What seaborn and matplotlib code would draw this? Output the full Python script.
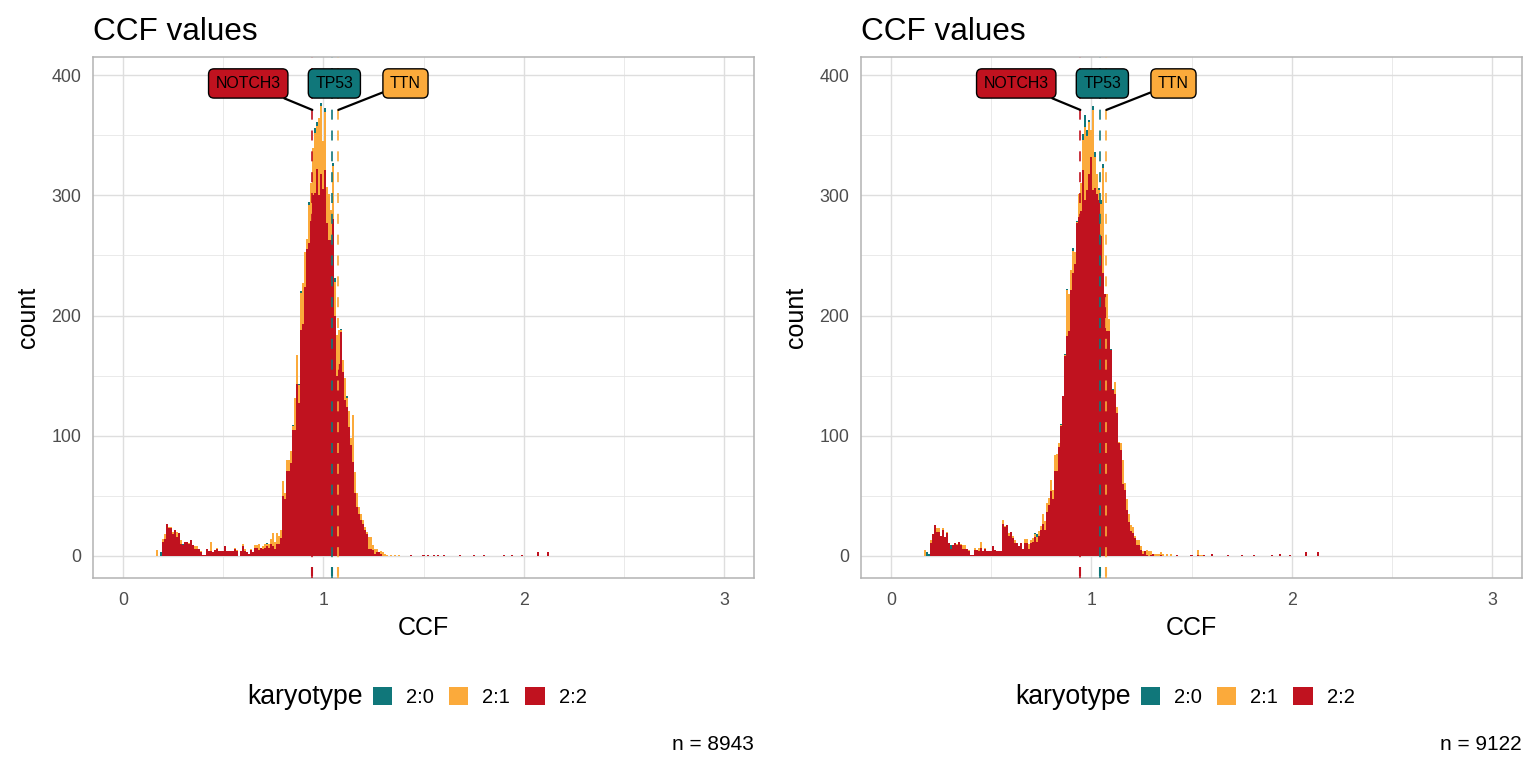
import numpy as np
import pandas as pd
import matplotlib.pyplot as plt
from matplotlib.patches import Patch
import seaborn as sns

karyotypes = ["2:0", "2:1", "2:2"]
palette = {"2:0": "#10777A", "2:1": "#FBAA3B", "2:2": "#C0121F"}

# histogram bins: width 0.01 starting at 0.165 (bin k centred on 0.17 + 0.01k)
bin_start = 0.165
bin_width = 0.01

# ---- left panel (n = 8943) ----
left_22 = [0, 0, 0, 12, 14, 27, 23, 23, 18, 22,
           16, 19, 10, 9, 12, 12, 10, 13, 9, 6,
           6, 6, 3, 1, 1, 6, 4, 4, 3, 5,
           6, 4, 4, 4, 8, 4, 4, 4, 4, 6,
           4, 0, 4, 8, 4, 3, 2, 5, 3, 7,
           7, 5, 7, 6, 7, 8, 7, 10, 8, 6,
           10, 10, 15, 50, 47, 71, 71, 77, 105, 105,
           143, 127, 188, 193, 224, 255, 260, 279, 300, 302,
           322, 300, 318, 305, 321, 277, 263, 263, 280, 200,
           150, 160, 186, 153, 130, 124, 107, 92, 78, 52,
           41, 35, 30, 27, 22, 18, 6, 6, 5, 2,
           3, 3, 2, 0, 0, 0, 0, 0, 0, 0,
           0, 0, 0, 0, 0]
left_21 = [5, 0, 0, 2, 4, 0, 1, 1, 2, 0,
           4, 0, 3, 0, 0, 0, 1, 0, 0, 2,
           2, 0, 1, 0, 0, 0, 0, 8, 0, 0,
           1, 0, 0, 0, 0, 0, 0, 0, 0, 1,
           1, 0, 0, 2, 2, 0, 0, 1, 0, 2,
           2, 5, 0, 2, 3, 2, 3, 4, 11, 6,
           9, 7, 7, 12, 5, 9, 9, 10, 3, 26,
           24, 15, 31, 34, 29, 9, 32, 31, 39, 50,
           36, 64, 56, 40, 48, 30, 38, 25, 44, 28,
           34, 28, 2, 10, 18, 7, 14, 6, 39, 18,
           11, 6, 5, 3, 2, 2, 10, 10, 4, 4,
           3, 0, 2, 3, 2, 1, 0, 1, 0, 1,
           0, 1, 0, 0, 0]
left_20_ccf = [0.19, 0.30, 0.72, 0.85, 0.88, 0.89, 0.93, 0.96, 0.97, 0.99,
               1.01, 1.05, 1.06, 1.09, 1.12]
left_20_n = [3, 1, 1, 1, 1, 1, 2, 4, 3, 3, 4, 3, 3, 1, 2]
left_tail_22_ccf = [1.44, 1.50, 1.52, 1.55, 1.57, 1.60, 1.68, 1.75, 1.80, 1.90,
                    1.94, 1.99, 2.07, 2.12]
left_tail_22_n = [1, 1, 1, 1, 1, 1, 1, 1, 1, 1, 1, 1, 3, 3]

# ---- right panel (n = 9122) ----
right_22 = [0, 0, 0, 11, 18, 26, 20, 20, 17, 22,
            16, 19, 11, 6, 9, 11, 9, 12, 9, 6,
            6, 6, 4, 1, 1, 5, 5, 4, 7, 4,
            6, 4, 4, 4, 8, 5, 4, 4, 4, 27,
            24, 26, 17, 20, 15, 11, 11, 8, 11, 6,
            11, 11, 6, 11, 12, 16, 12, 17, 22, 27,
            22, 37, 42, 54, 47, 71, 71, 91, 108, 133,
            166, 183, 187, 221, 235, 243, 277, 282, 287, 321,
            296, 304, 318, 332, 304, 306, 301, 296, 266, 235,
            218, 187, 187, 171, 138, 135, 119, 94, 88, 60,
            55, 38, 28, 21, 19, 15, 9, 9, 5, 2,
            4, 1, 0, 1, 2, 0, 0, 0, 1, 0,
            0, 0, 0, 0, 0]
right_21 = [5, 0, 0, 2, 0, 0, 3, 3, 0, 1,
            0, 1, 0, 0, 0, 0, 1, 0, 1, 3,
            3, 0, 1, 0, 0, 2, 0, 3, 5, 0,
            1, 0, 0, 0, 0, 0, 0, 0, 0, 3,
            1, 0, 2, 0, 2, 2, 0, 0, 0, 0,
            3, 3, 4, 2, 3, 2, 4, 4, 3, 8,
            7, 7, 6, 9, 8, 13, 14, 3, 1, 0,
            1, 38, 31, 17, 19, 10, 1, 19, 23, 25,
            61, 45, 43, 22, 67, 26, 17, 8, 27, 88,
            0, 31, 10, 0, 0, 10, 5, 1, 6, 20,
            6, 9, 7, 5, 5, 2, 4, 4, 3, 2,
            0, 4, 4, 3, 0, 2, 2, 2, 2, 2,
            0, 2, 0, 2, 0]
right_20_ccf = [0.18, 0.19, 0.30, 0.72, 0.73, 0.85, 0.87, 0.88, 0.91, 0.93,
                0.96, 0.97, 0.98, 0.99, 1.01, 1.02, 1.04, 1.05, 1.06, 1.10, 1.11]
right_20_n = [3, 2, 3, 1, 2, 1, 1, 1, 2, 1, 5, 10, 5, 2, 3, 4, 2, 3, 3, 1, 1]
right_tail_22_ccf = [1.43, 1.50, 1.53, 1.56, 1.60, 1.68, 1.75, 1.81, 1.90, 1.94,
                     1.99, 2.07, 2.13]
right_tail_22_n = [1, 1, 1, 1, 2, 1, 1, 1, 1, 2, 1, 3, 3]
right_tail_21_ccf = [1.53, 1.54, 1.55]
right_tail_21_n = [4, 1, 1]

# driver mutations
drivers = ["NOTCH3", "TP53", "TTN"]
driver_ccf = [0.945, 1.045, 1.075]
driver_karyotype = ["2:2", "2:0", "2:1"]
label_dx = [-0.32, 0.01, 0.335]   # repelled label offsets
label_segment = [True, False, True]

panels = [
    dict(c22=left_22, c21=left_21, c20x=left_20_ccf, c20n=left_20_n,
         t22x=left_tail_22_ccf, t22n=left_tail_22_n, t21x=[], t21n=[], n=8943),
    dict(c22=right_22, c21=right_21, c20x=right_20_ccf, c20n=right_20_n,
         t22x=right_tail_22_ccf, t22n=right_tail_22_n,
         t21x=right_tail_21_ccf, t21n=right_tail_21_n, n=9122),
]


def build_frame(p):
    centers = np.round(bin_start + bin_width * (np.arange(len(p["c22"])) + 0.5), 3)
    parts = [
        pd.DataFrame({"ccf": centers, "karyotype": "2:2", "n": p["c22"]}),
        pd.DataFrame({"ccf": centers, "karyotype": "2:1", "n": p["c21"]}),
        pd.DataFrame({"ccf": p["c20x"], "karyotype": "2:0", "n": p["c20n"]}),
        pd.DataFrame({"ccf": p["t22x"], "karyotype": "2:2", "n": p["t22n"]}),
        pd.DataFrame({"ccf": p["t21x"], "karyotype": "2:1", "n": p["t21n"]}),
    ]
    df = pd.concat([d for d in parts if len(d)], ignore_index=True)
    return df[df["n"] > 0]


sns.set_style("white")
plt.rcParams["font.family"] = ["Liberation Sans", "DejaVu Sans"]
plt.rcParams["text.color"] = "black"
plt.rcParams["axes.labelcolor"] = "black"

fig = plt.figure(figsize=(15.36, 7.68), dpi=100)
W, H = 1536, 768

for i, p in enumerate(panels):
    off = 768 * i
    ax = fig.add_axes([(93 + off) / W, 1 - 578 / H, 661 / W, 521 / H])
    df = build_frame(p)
    sns.histplot(data=df, x="ccf", weights="n", hue="karyotype", hue_order=karyotypes,
                 multiple="stack", binwidth=bin_width, binrange=(bin_start, 2.205),
                 palette=palette, alpha=1, linewidth=0, edgecolor="none",
                 legend=False, ax=ax)

    for g, x, k, dx, seg in zip(drivers, driver_ccf, driver_karyotype, label_dx,
                                label_segment):
        ax.axvline(x, color=palette[k], lw=1.2, ls=(0, (6, 6.5)), zorder=3)
        ax.vlines(x, -16.5, -9, color=palette[k], lw=1.5, zorder=3)
        arrow = dict(arrowstyle="-", color="black", lw=1.6, shrinkA=0, shrinkB=0)
        ax.annotate(g, xy=(x, 371), xytext=(x + dx, 393), ha="center", va="center",
                    fontsize=11.4, color="black", zorder=5,
                    bbox=dict(boxstyle="round,pad=0.45,rounding_size=0.35",
                              fc=palette[k], ec="black", lw=1.0),
                    arrowprops=arrow if seg else None)

    ax.set_xlim(-0.15, 3.15)
    ax.set_ylim(-18.3, 415)
    ax.set_xticks([0, 1, 2, 3])
    ax.set_xticks([0.5, 1.5, 2.5], minor=True)
    ax.set_yticks([0, 100, 200, 300, 400])
    ax.set_yticks([50, 150, 250, 350], minor=True)
    ax.grid(which="major", color="#DEDEDE", lw=1.0)
    ax.grid(which="minor", color="#E6E6E6", lw=0.6)
    ax.set_axisbelow(True)
    for s in ax.spines.values():
        s.set_color("#B3B3B3")
        s.set_linewidth(1.1)
    ax.tick_params(which="major", length=4.3, width=1, color="#B3B3B3",
                   labelcolor="#4D4D4D", labelsize=12.8, pad=4)
    ax.tick_params(axis="x", which="major", pad=5.5)
    ax.tick_params(which="minor", length=0)
    ax.set_xlabel("CCF", fontsize=18, labelpad=5)
    ax.set_ylabel("count", fontsize=18, labelpad=8)
    ax.set_title("CCF values", loc="left", fontsize=22.7, pad=12)

    # legend row below the panel
    fig.text((247 + off) / W, 1 - 697 / H, "karyotype", fontsize=19.2,
             ha="left", va="center")
    handles = [Patch(facecolor=palette[k], edgecolor="none") for k in karyotypes]
    fig.legend(handles, karyotypes, loc="center left",
               bbox_to_anchor=((373 + off) / W, 1 - 697 / H), ncol=3,
               frameon=False, fontsize=14.5, handlelength=0.95, handleheight=0.95,
               handletextpad=0.7, columnspacing=0.75, borderpad=0, borderaxespad=0)
    fig.text((754 + off) / W, 1 - 745 / H, f"n = {p['n']}", fontsize=15,
             ha="right", va="center")

fig.savefig("out.png", dpi=100)
